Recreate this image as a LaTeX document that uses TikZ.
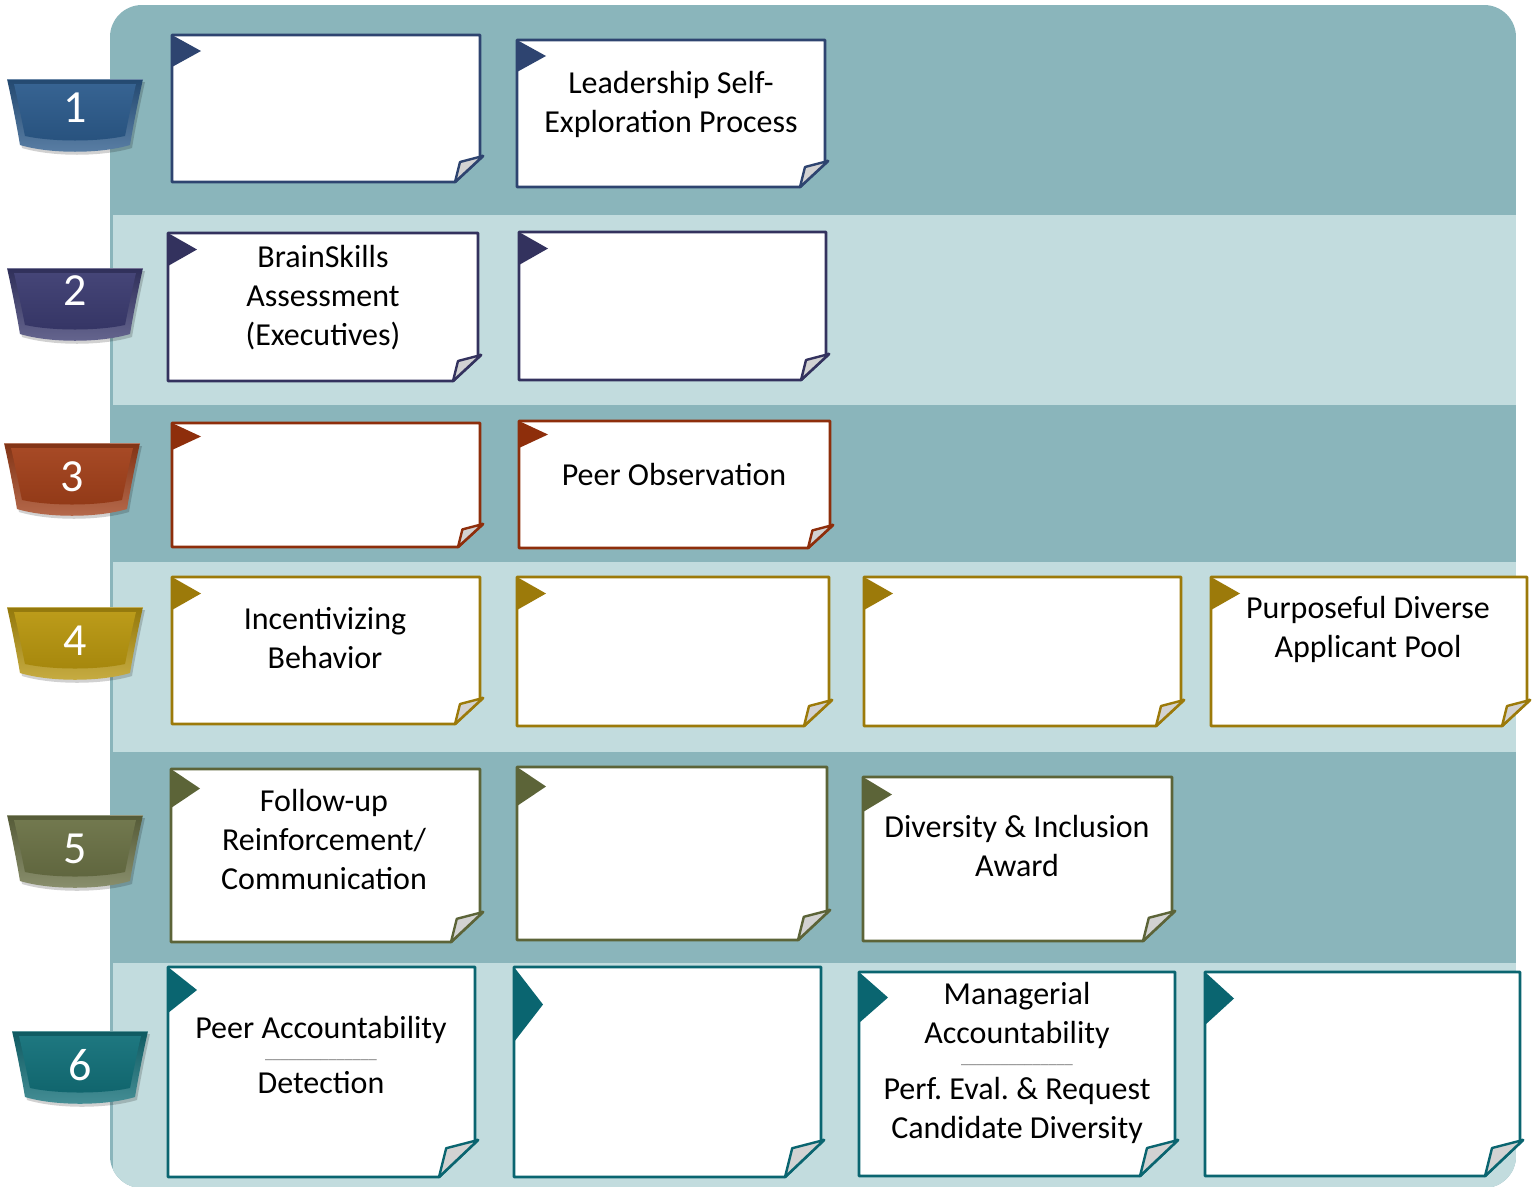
\documentclass[tikz,border=0pt]{standalone}
\usepackage{fontspec}
\setmainfont{Carlito}
\frenchspacing
\definecolor{bandDark}{HTML}{8AB5BB}
\definecolor{bandLight}{HTML}{C2DCDE}
\definecolor{foldgray}{HTML}{D2D2D2}
\definecolor{cardA}{HTML}{2E4470}
\definecolor{cardB}{HTML}{33325E}
\definecolor{cardC}{HTML}{8E2E0B}
\definecolor{cardD}{HTML}{9C7A0A}
\definecolor{cardE}{HTML}{5C6438}
\definecolor{cardF}{HTML}{0A6570}
\definecolor{tabA}{HTML}{2C5B8C}
\definecolor{tabB}{HTML}{3B3B70}
\definecolor{tabC}{HTML}{A2401A}
\definecolor{tabD}{HTML}{B8960E}
\definecolor{tabE}{HTML}{6A7145}
\definecolor{tabF}{HTML}{127079}

% note card: #1 colour, #2 x1, #3 y1, #4 x2, #5 y2, #6 flag height, #7 fold size
\newcommand\notecard[7]{%
  \draw[#1, line width=2.8pt, fill=white, line join=round]
    (#2,#3) -- (#4,#3) -- (#4,{#5-#7}) -- ({#4+3},{#5-#7-1}) -- ({#4-#7},#5) -- (#2,#5) -- cycle;
  \fill[#1] (#2,#3) -- ({#2+29},{#3+#6/2}) -- (#2,{#3+#6}) -- cycle;
  \draw[#1, line width=2.4pt, fill=foldgray, line join=round]
    ({#4-#7},#5) -- ({#4-0.8*#7},{#5-0.8*#7}) -- ({#4+3},{#5-#7-1}) -- cycle;
}

% bevelled number tab: #1 colour, #2 centre x, #3 top y, #4 node name, #5 number y, #6 number
\newcommand\numtab[6]{%
  \fill[black, opacity=0.18]
    ({#2-66},{#3+3}) -- ({#2+70},{#3+3}) .. controls ({#2+65},{#3+25}) and ({#2+60},{#3+51}) .. ({#2+57},{#3+69})
    .. controls ({#2+27},{#3+78}) and ({#2-23},{#3+78}) .. ({#2-53},{#3+69})
    .. controls ({#2-56},{#3+51}) and ({#2-61},{#3+25}) .. cycle;
  \shade[top color=#1!80!black, bottom color=#1!78!white]
    ({#2-68},{#3}) -- ({#2+68},{#3}) .. controls ({#2+63},{#3+22}) and ({#2+58},{#3+48}) .. ({#2+55},{#3+66})
    .. controls ({#2+25},{#3+75}) and ({#2-25},{#3+75}) .. ({#2-55},{#3+66})
    .. controls ({#2-58},{#3+48}) and ({#2-63},{#3+22}) .. cycle;
  \shade[top color=#1!95!white, bottom color=#1!90!black]
    ({#2-61},{#3+5}) -- ({#2+61},{#3+5}) .. controls ({#2+57},{#3+22}) and ({#2+53},{#3+42}) .. ({#2+50},{#3+57})
    .. controls ({#2+22},{#3+63}) and ({#2-22},{#3+63}) .. ({#2-50},{#3+57})
    .. controls ({#2-53},{#3+42}) and ({#2-57},{#3+22}) .. cycle;
  \draw[#1!55!white, line width=1pt, opacity=0.7] ({#2-68},{#3+0.5}) -- ({#2+68},{#3+0.5});
  \node[numtext] (#4) at (#2,#5) {#6};
}

\begin{document}
\begin{tikzpicture}[x=1pt, y=-1pt,
  cardtext/.style={align=center, font=\fontsize{32}{39}\selectfont, inner sep=0pt},
  ruletext/.style={font=\fontsize{16}{18}\selectfont, text=gray, inner sep=0pt, anchor=base},
  numtext/.style={font=\fontsize{46}{50}\selectfont, text=white, inner sep=0pt}]

\useasboundingbox (0,0) rectangle (1533,1186);
\fill[white] (0,0) rectangle (1533,1186);

% banded panel
\begin{scope}
  \clip[rounded corners=32pt] (110,5) rectangle (1516,1188);
  \fill[bandDark] (110,5) rectangle (1516,1188);
  \fill[bandLight] (113,215) rectangle (1516,405);
  \fill[bandLight] (113,562) rectangle (1516,752);
  \fill[bandLight] (113,963) rectangle (1516,1188);
\end{scope}

% number tabs
\numtab{tabA}{75}{79}{n1}{108}{1}
\numtab{tabB}{75}{268}{n2}{291}{2}
\numtab{tabC}{72}{443}{n3}{477}{3}
\numtab{tabD}{75}{607}{n4}{641}{4}
\numtab{tabE}{75}{815}{n5}{849}{5}
\numtab{tabF}{80}{1031}{n6}{1065}{6}

% row 1
\notecard{cardA}{172}{35}{480}{182}{32}{25}
\notecard{cardA}{517}{40}{825}{187}{32}{25}
\node[cardtext] (selfexp) at (671,105) {\strut Leadership Self-\\\strut Exploration Process};

% row 2
\notecard{cardB}{168}{233}{478}{381}{33}{25}
\notecard{cardB}{519}{232}{826}{380}{33}{25}
\node[cardtext] (brainskills) at (323,299) {\strut BrainSkills\\\strut Assessment\\\strut (Executives)};

% row 3
\notecard{cardC}{172}{423}{480}{547}{27}{22}
\notecard{cardC}{519}{421}{830}{548}{27}{22}
\node[cardtext] (peerobs) at (674,478) {\strut Peer Observation};

% row 4
\notecard{cardD}{172}{577}{480}{724}{33}{25}
\notecard{cardD}{517}{577}{829}{726}{33}{25}
\notecard{cardD}{864}{577}{1181}{726}{33}{25}
\notecard{cardD}{1211}{577}{1527}{726}{33}{25}
\node[cardtext] (incent) at (325,641.5) {\strut Incentivizing\\\strut Behavior};
\node[cardtext] (applicant) at (1368,630.5) {\strut Purposeful Diverse\\\strut Applicant Pool};

% row 5
\notecard{cardE}{171}{769}{480}{942}{39}{29}
\notecard{cardE}{517}{767}{827}{940}{39}{29}
\notecard{cardE}{863}{777}{1172}{941}{35}{29}
\node[cardtext] (followup) at (324,843) {\strut Follow-up\\\strut Reinforcement/\\\strut Communication};
\node[cardtext] (award) at (1017,849.5) {\strut Diversity \& Inclusion\\\strut Award};

% row 6
\notecard{cardF}{168}{967}{475}{1177}{46}{36}
\notecard{cardF}{514}{967}{821}{1177}{75}{36}
\notecard{cardF}{859}{972}{1175}{1176}{51}{35}
\notecard{cardF}{1205}{972}{1520}{1176}{53}{35}
\node[cardtext] (peeracc) at (321,1031) {\strut Peer Accountability};
\node[ruletext] (peerrule) at (321,1058) {\_\_\_\_\_\_\_\_\_\_\_\_\_\_};
\node[cardtext] (detect) at (321,1086) {\strut Detection};
\node[cardtext] (mgracc) at (1017,1016.5) {\strut Managerial\\\strut Accountability};
\node[ruletext] (mgrrule) at (1017,1063) {\_\_\_\_\_\_\_\_\_\_\_\_\_\_};
\node[cardtext] (perfeval) at (1017,1111.5) {\strut Perf. Eval. \& Request\\\strut Candidate Diversity};

\end{tikzpicture}
\end{document}
